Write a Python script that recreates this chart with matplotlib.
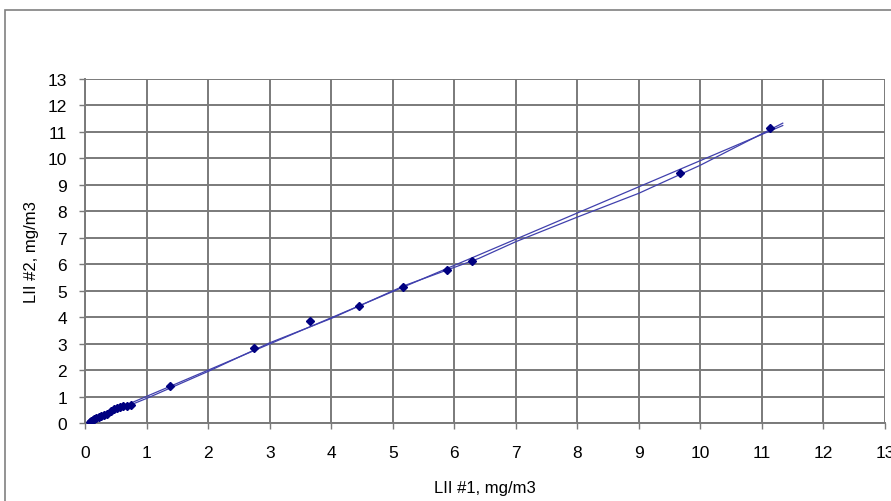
import numpy as np
import matplotlib
matplotlib.use("Agg")
import matplotlib.pyplot as plt
from matplotlib.patches import Rectangle

plt.rcParams['font.family'] = ['Liberation Sans', 'DejaVu Sans']

# measured concentrations, LII #1 vs LII #2 (mg/m3)
lii1 = [0.08, 0.10, 0.12, 0.15, 0.18, 0.22, 0.26, 0.30, 0.35, 0.42, 0.47,
        0.52, 0.57, 0.62, 0.68, 0.74,
        1.38, 2.74, 3.65, 4.45, 5.17, 5.88, 6.29, 9.67, 11.13]
lii2 = [0.05, 0.08, 0.12, 0.16, 0.20, 0.23, 0.27, 0.30, 0.35, 0.45, 0.52,
        0.56, 0.60, 0.63, 0.66, 0.68,
        1.40, 2.84, 3.86, 4.42, 5.14, 5.78, 6.12, 9.45, 11.15]

# second (polynomial) trend curve
curve_x = [0.05, 1.0, 2.0, 3.0, 4.0, 5.2, 6.4, 7.0, 8.0, 9.0, 10.0, 11.34]
curve_y = [0.03, 0.93, 1.95, 3.03, 3.95, 5.20, 6.22, 6.85, 7.78, 8.68, 9.74, 11.33]

ticks = list(range(0, 14))

fig = plt.figure(figsize=(8.91, 5.02), dpi=100)
ax = fig.add_axes([0.0956, 0.1554, 0.8975, 0.6853])

# linear trendline
coef = np.polyfit(lii1, lii2, 1)
lx = np.array([0.05, 11.34])
ax.plot(lx, np.polyval(coef, lx), color='#4040ad', lw=0.9, zorder=3)
ax.plot(curve_x, curve_y, color='#4040ad', lw=0.9, zorder=3)

ax.plot(lii1, lii2, linestyle='none', marker='D', markersize=4.5,
        color='#000080', zorder=4)

ax.set_xlim(0, 13)
ax.set_ylim(0, 13)
ax.set_xticks(ticks)
ax.set_yticks(ticks)
ax.grid(True, color='#7a7a7a', lw=1.4)
ax.set_axisbelow(True)
for s in ['top', 'right']:
    ax.spines[s].set_visible(False)
for s in ['left', 'bottom']:
    ax.spines[s].set_color('#7a7a7a')
    ax.spines[s].set_linewidth(1.4)
ax.tick_params(axis='x', length=4, width=1.0, color='#7a7a7a', pad=12,
               labelsize=12.5)
ax.tick_params(axis='y', length=4, width=1.0, color='#7a7a7a', pad=9,
               labelsize=12.5)

ax.set_xlabel('LII #1, mg/m3', fontsize=12, labelpad=14)
ax.set_ylabel('LII #2, mg/m3', fontsize=12, labelpad=6)

# chart area frame (cut by the image edge)
fig.patches.append(Rectangle((0.006, -0.1), 1.2, 1.078, transform=fig.transFigure,
                             fill=False, edgecolor='#808080', lw=1.2))

fig.savefig('out.png', dpi=100)
